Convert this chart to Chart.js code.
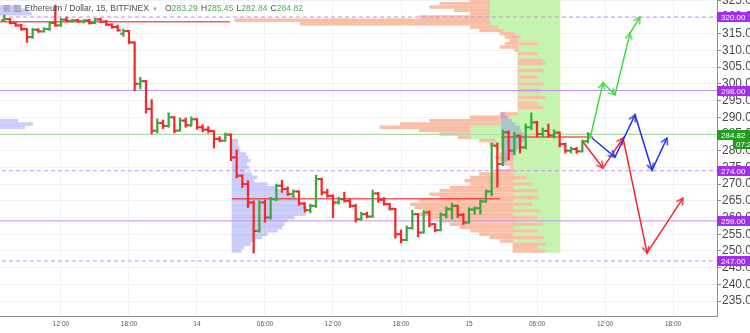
<!DOCTYPE html>
<html>
<head>
<meta charset="utf-8">
<script src="https://cdn.jsdelivr.net/npm/chart.js@4.4.0/dist/chart.umd.min.js"></script>
<style>
html, body { margin: 0; padding: 0; background: #fff; overflow: hidden; }
#wrap { position: relative; width: 750px; height: 333px; }
#title { position: absolute; left: 3px; top: 3px; font: 8.6px "Liberation Sans", Arial, sans-serif; color: #4a4a4a; white-space: nowrap; }
#title .ic { color: #888; font-size: 8.5px; }
#title .dd { color: #aaa; font-size: 6px; margin: 0 7px 0 3px; }
#title .g { color: #4caf50; margin-right: 3px; }
</style>
</head>
<body>
<div id="wrap">
  <canvas id="chart" width="750" height="333"></canvas>
  <div id="title"><span class="ic">⊞</span> <span class="ic">▥</span> Ethereum / Dollar, 15, BITFINEX<span class="dd">▼</span>O<span class="g">283.29</span>H<span class="g">285.45</span>L<span class="g">282.84</span>C<span class="g">284.82</span></div>
</div>
<script>
// bar times in hours from 13th 00:00 (30 min bars)
const barTimes = [7.0, 7.5, 8.0, 8.5, 9.0, 9.5, 10.0, 10.5, 11.0, 11.5, 12.0, 12.5, 13.0, 13.5, 14.0, 14.5, 15.0, 15.5, 16.0, 16.5,
  17.0, 17.5, 18.0, 18.5, 19.0, 19.5, 20.0, 20.5, 21.0, 21.5, 22.0, 22.5, 23.0, 23.5, 24.0, 24.5, 25.0, 25.5, 26.0, 26.5,
  27.0, 27.5, 28.0, 28.5, 29.0, 29.5, 30.0, 30.5, 31.0, 31.5, 32.0, 32.5, 33.0, 33.5, 34.0, 34.5, 35.0, 35.5, 36.0, 36.5,
  37.0, 37.5, 38.0, 38.5, 39.0, 39.5, 40.0, 40.5, 41.0, 41.5, 42.0, 42.5, 43.0, 43.5, 44.0, 44.5, 45.0, 45.5, 46.0, 46.5,
  47.0, 47.5, 48.0, 48.5, 49.0, 49.5, 50.0, 50.5, 51.0, 51.5, 52.0, 52.5, 53.0, 53.5, 54.0, 54.5, 55.0, 55.5, 56.0, 56.5,
  57.0, 57.5, 58.0, 58.5];
const barOpen = [319.1, 319.4, 318.2, 317.5, 316.4, 314.0, 316.2, 315.7, 316.4, 318.2, 317.5, 319.2, 318.8, 319.0, 318.7, 319.0, 318.2, 319.3, 318.6, 317.7,
  317.0, 315.0, 315.8, 312.4, 300.0, 300.8, 292.5, 286.0, 288.3, 287.4, 290.0, 286.0, 289.0, 287.6, 289.4, 287.0, 286.3, 285.9, 283.5, 283.0,
  284.8, 278.0, 272.5, 270.0, 264.5, 256.0, 264.5, 260.0, 265.5, 269.5, 268.5, 267.0, 267.8, 264.2, 262.2, 263.5, 271.5, 267.5, 266.5, 264.5,
  265.5, 265.0, 263.5, 259.5, 261.0, 260.3, 267.2, 265.3, 264.0, 262.6, 255.0, 253.3, 256.8, 261.0, 255.5, 261.5, 258.0, 256.2, 260.8, 262.5,
  263.5, 260.8, 258.5, 262.4, 262.8, 264.8, 267.8, 281.5, 276.0, 285.5, 280.0, 284.5, 281.0, 287.0, 288.5, 285.0, 285.9, 284.6, 285.4, 282.0,
  280.0, 280.5, 279.8, 282.8];
const barHigh = [320.6, 319.5, 318.5, 317.8, 316.5, 316.6, 316.5, 316.8, 318.6, 323.6, 319.6, 320.0, 319.3, 319.4, 319.2, 319.3, 319.6, 319.6, 319.0, 318.0,
  317.6, 316.4, 316.0, 312.6, 302.0, 301.0, 295.3, 289.5, 289.2, 291.3, 290.2, 289.8, 289.8, 290.1, 289.6, 287.8, 287.2, 286.0, 284.2, 285.3,
  285.0, 280.2, 272.8, 271.0, 265.0, 265.0, 265.2, 266.1, 270.0, 271.2, 269.2, 268.3, 268.0, 264.5, 264.0, 272.7, 271.8, 268.5, 266.8, 266.1,
  267.6, 265.5, 264.0, 261.6, 261.6, 268.2, 267.5, 266.0, 264.3, 262.8, 256.3, 257.5, 262.2, 261.2, 262.2, 262.0, 258.2, 261.4, 263.2, 264.3,
  263.7, 261.2, 262.9, 263.2, 265.2, 268.2, 282.3, 282.3, 286.2, 285.9, 285.5, 284.7, 288.0, 291.3, 288.8, 286.8, 288.0, 286.2, 285.6, 282.3,
  281.1, 281.0, 283.2, 285.45];
const barLow = [318.6, 317.9, 317.2, 316.0, 312.4, 313.6, 315.4, 315.5, 316.0, 317.2, 317.2, 318.5, 318.4, 318.5, 318.2, 317.9, 318.0, 318.4, 317.4, 316.6,
  315.8, 314.2, 312.0, 297.9, 298.5, 291.2, 285.0, 285.3, 286.6, 287.0, 285.3, 285.8, 287.0, 287.3, 286.4, 285.6, 285.3, 280.8, 282.6, 282.8,
  277.0, 271.9, 269.0, 263.0, 249.4, 255.6, 258.6, 259.5, 265.0, 267.5, 266.6, 266.1, 263.7, 261.6, 261.4, 263.0, 266.7, 266.0, 260.0, 264.0,
  264.6, 263.0, 258.6, 259.2, 259.9, 260.0, 264.5, 263.7, 262.2, 253.8, 252.4, 253.0, 256.5, 254.2, 255.3, 257.2, 255.7, 256.0, 259.8, 259.5,
  260.0, 257.9, 258.3, 261.0, 261.0, 264.6, 266.5, 269.1, 275.5, 277.2, 278.7, 279.3, 280.5, 286.3, 284.1, 284.2, 284.0, 283.8, 281.1, 279.3,
  279.3, 279.2, 279.6, 282.3];
const barClose = [319.4, 318.2, 317.5, 316.4, 314.0, 316.2, 315.7, 316.4, 318.2, 317.5, 319.2, 318.8, 319.0, 318.7, 319.0, 318.2, 319.3, 318.6, 317.7, 317.0,
  316.0, 315.8, 312.4, 300.0, 300.8, 292.5, 286.0, 288.3, 287.4, 290.0, 286.0, 289.0, 287.6, 289.4, 287.0, 286.3, 285.9, 283.5, 283.0, 284.8,
  278.0, 272.5, 270.0, 264.5, 256.0, 264.5, 260.0, 265.5, 269.5, 268.5, 267.0, 267.8, 264.2, 262.2, 263.5, 271.5, 267.5, 266.5, 264.5, 265.5,
  265.0, 263.5, 259.5, 261.0, 260.3, 267.2, 265.3, 264.0, 262.6, 255.0, 253.3, 256.8, 261.0, 255.5, 261.5, 258.0, 256.2, 260.8, 262.5, 263.5,
  260.8, 258.5, 262.4, 262.8, 264.8, 267.8, 281.5, 276.0, 285.5, 280.0, 284.5, 281.0, 287.0, 288.5, 285.0, 285.9, 284.6, 285.4, 282.0, 280.0,
  280.5, 279.8, 282.8, 284.82];

// x axis ticks
const xTickHours = [12, 18, 24, 30, 36, 42, 48, 54, 60, 66];
const xTickLabels = ['12:00', '18:00', '14', '06:00', '12:00', '18:00', '15', '06:00', '12:00', '18:00'];

// horizontal levels
const solidLevels = [298, 259];
const dashedLevels = [320, 274, 247];
const lastPrice = 284.82;
const countdown = '07:22';

// session volume profiles (blue) : start hour, POC price, POC end hour
const sessionStart = [3.09, 27.09, 50.85];
const sessionPoc = [318.6, 265.6, 284.1];
const sessionPocEnd = [26.9, 50.74, 58.94];
const sessAPrices = [323, 322, 321, 289, 288, 287];
const sessAVolume = [5.3, 6.0, 6.3, 5.1, 6.4, 5.7];
const sessBPrices = [283, 282, 281, 280, 279, 278, 277, 276, 275, 274, 273, 272, 271, 270, 269, 268, 267, 266, 265, 264, 263, 262, 261, 260, 259, 258, 257, 256, 255, 254, 253, 252, 251, 250];
const sessBVolume = [0.5, 0.5, 0.6, 0.7, 1.2, 1.4, 1.6, 1.3, 1.5, 1.15, 1.75, 2.2, 1.95, 3.1, 3.8, 4.4, 5.1, 5.65, 6.0, 6.45, 6.6, 6.2, 6.5, 5.5, 4.85, 4.6, 4.4, 4.0, 3.1, 2.65, 1.95, 1.6, 1.05, 0.8];
const sessCPrices = [291, 290, 289, 288, 287, 286, 285, 284, 283, 282, 281, 280, 279, 278, 277, 276];
const sessCVolume = [0.27, 0.5, 0.9, 1.2, 1.6, 1.75, 1.95, 2.1, 1.95, 1.75, 1.6, 1.3, 1.05, 0.7, 0.45, 0.27];

// visible range profile, right aligned: up volume (green) on the right, down volume (salmon) stacked to its left
const vpRight = 56.03;
const vpPrices = [325, 324, 323, 322, 321, 320, 319, 318, 317, 316, 315, 314, 313, 312, 311, 310, 309, 308, 307, 306,
  305, 304, 303, 302, 301, 300, 299, 298, 297, 296, 295, 294, 293, 292, 291, 290, 289, 288, 287, 286,
  285, 284, 283, 282, 281, 280, 279, 278, 277, 276, 275, 274, 273, 272, 271, 270, 269, 268, 267, 266,
  265, 264, 263, 262, 261, 260, 259, 258, 257, 256, 255, 254, 253, 252, 251, 250];
const vpUp = [6.2, 6.2, 6.2, 6.2, 6.2, 6.2, 6.2, 6.2, 5.5, 5.0, 4.0, 3.5, 3.7, 2.0, 3.7, 3.7, 2.0, 3.7, 1.5, 1.3,
  3.7, 1.5, 3.7, 2.0, 3.7, 1.5, 3.7, 1.8, 3.7, 1.3, 3.7, 2.0, 1.5, 3.7, 3.7, 4.5, 5.3, 5.3, 7.9, 7.9,
  7.9, 7.9, 5.7, 5.7, 5.7, 4.15, 4.15, 4.15, 4.15, 4.15, 4.15, 4.15, 4.15, 3.0, 4.15, 2.5, 4.15, 2.0, 4.15, 2.0,
  4.15, 2.5, 4.15, 1.8, 4.15, 2.0, 4.15, 1.5, 4.15, 2.0, 4.15, 1.5, 4.15, 1.3, 2.0, 1.3];
const vpDown = [1.7, 4.4, 5.3, 3.1, 1.7, 6.2, 22.5, 16.7, 2.4, 2.1, 1.3, 1.35, 0.7, 2.85, 1.6, 0.3, 1.7, 0, 2.2, 2.4,
  0, 2.2, 0, 1.7, 0, 2.2, 0, 1.9, 0, 2.4, 0, 1.7, 2.2, 0, 1.6, 3.4, 6.2, 8.8, 8.0, 4.5,
  2.7, 1.1, 1.4, 0.5, 0, 0.7, 1.15, 1.55, 1.15, 0.7, 0.25, 1.55, 2.95, 4.9, 4.25, 5.4, 5.55, 8.6, 7.35, 8.6,
  8.25, 10.7, 8.65, 10.1, 8.25, 9.5, 6.45, 8.2, 4.65, 5.9, 2.95, 4.7, 1.15, 2.85, 2.15, 2.85];

// projection paths
const greenPathT = [58.68, 59.82, 60.88, 62.21, 63.09];
const greenPathP = [283.7, 300.3, 296.7, 315.2, 320.0];
const bluePathT = [58.85, 60.88, 62.65, 64.15, 65.47];
const bluePathP = [283.8, 278.1, 290.7, 274.2, 283.8];
const redPathT = [58.06, 59.82, 61.59, 63.71, 66.88];
const redPathP = [282.6, 274.8, 283.8, 249.4, 265.8];

const GREEN = '#3da83d';
const RED = '#f42a2a';
const PURPLE_LINE = '#c390f2';
const PURPLE_TAG = '#a12ff0';
const FONT = '"Liberation Sans", Arial, sans-serif';
const TICK_HALF = 0.25;

function barColor(i) {
    return barClose[i] >= barOpen[i] ? GREEN : RED;
}

function chevron(color) {
    const c = document.createElement('canvas');
    c.width = 16; c.height = 16;
    const g = c.getContext('2d');
    g.strokeStyle = color;
    g.lineWidth = 1.5;
    g.beginPath();
    g.moveTo(4.5, 14.5);
    g.lineTo(8, 8);
    g.lineTo(11.5, 14.5);
    g.stroke();
    return c;
}

function arrowAngle(ctx) {
    const d = ctx.dataset.data;
    const i = ctx.dataIndex;
    if (i === 0) return 0;
    const sx = ctx.chart.scales.x, sy = ctx.chart.scales.y;
    const dx = sx.getPixelForValue(d[i].x) - sx.getPixelForValue(d[i - 1].x);
    const dy = sy.getPixelForValue(d[i].y) - sy.getPixelForValue(d[i - 1].y);
    return Math.atan2(dx, -dy) * 180 / Math.PI;
}

function pathDataset(ts, ps, color) {
    const img = chevron(color);
    return {
        type: 'line',
        data: ts.map((t, i) => ({x: t, y: ps[i]})),
        borderColor: color,
        borderWidth: 1.5,
        pointStyle: (ctx) => ctx.dataIndex === 0 ? false : img,
        pointRotation: arrowAngle,
        pointRadius: 5,
        order: 1
    };
}

function levelDataset(level, color, dash) {
    return {
        type: 'line',
        data: [{x: 0, y: level}, {x: 80, y: level}],
        borderColor: color,
        borderWidth: 1,
        borderDash: dash,
        pointRadius: 0,
        order: 6
    };
}

function hbars(points, color, thickness, order) {
    return {
        type: 'bar',
        indexAxis: 'y',
        data: points,
        backgroundColor: color,
        barThickness: thickness,
        grouped: false,
        order: order
    };
}

function profileDataset(prices, volumes, start, color, order) {
    return hbars(prices.map((p, i) => ({y: p, x: [start, start + volumes[i]]})), color, 2.8, order);
}

const datasets = [];
datasets.push(hbars(vpPrices.map((p, i) => ({y: p, x: [vpRight - vpUp[i], vpRight]})), '#c4f4ae', 3, 11));
datasets.push(hbars(vpPrices.map((p, i) => ({y: p, x: [vpRight - vpUp[i] - vpDown[i], vpRight - vpUp[i]]})), '#f9bfa6', 2.8, 10));
datasets.push(profileDataset(sessAPrices, sessAVolume, sessionStart[0], 'rgba(130,130,240,0.4)', 9));
datasets.push(profileDataset(sessBPrices, sessBVolume, sessionStart[1], 'rgba(130,130,240,0.4)', 9));
datasets.push(profileDataset(sessCPrices, sessCVolume, sessionStart[2], 'rgba(130,130,240,0.4)', 9));
solidLevels.forEach(l => datasets.push(levelDataset(l, PURPLE_LINE, [])));
dashedLevels.forEach(l => datasets.push(levelDataset(l, PURPLE_LINE, [4, 3])));
datasets.push(levelDataset(lastPrice, '#a8d8a4', []));
sessionPoc.forEach((p, i) => datasets.push({
    type: 'line',
    data: [{x: sessionStart[i], y: p}, {x: sessionPocEnd[i], y: p}],
    borderColor: 'rgba(240,50,50,0.8)',
    borderWidth: 1.5,
    pointRadius: 0,
    order: 5
}));
// OHLC bars: high-low stem plus open (left) and close (right) ticks
datasets.push({
    type: 'bar',
    data: barTimes.map((t, i) => ({x: t, y: [barLow[i], barHigh[i]]})),
    backgroundColor: barTimes.map((t, i) => barColor(i)),
    barThickness: 1.6,
    grouped: false,
    order: 3
});
datasets.push(hbars(barTimes.map((t, i) => ({y: barOpen[i], x: [t - TICK_HALF, t]})), barTimes.map((t, i) => barColor(i)), 1.4, 3));
datasets.push(hbars(barTimes.map((t, i) => ({y: barClose[i], x: [t, t + TICK_HALF]})), barTimes.map((t, i) => barColor(i)), 1.4, 3));
datasets.push(pathDataset(greenPathT, greenPathP, '#3fdc3f'));
datasets.push(pathDataset(bluePathT, bluePathP, '#2233ee'));
datasets.push(pathDataset(redPathT, redPathP, '#f02828'));

const axisTags = {
    id: 'axisTags',
    afterDraw(chart) {
        const {ctx, chartArea, scales: {y}} = chart;
        const w = chart.width - chartArea.right;
        ctx.save();
        ctx.font = '8px ' + FONT;
        ctx.textBaseline = 'middle';
        dashedLevels.concat(solidLevels).forEach(l => {
            const py = Math.round(y.getPixelForValue(l));
            ctx.fillStyle = PURPLE_TAG;
            ctx.fillRect(chartArea.right, py - 5, w, 10);
            ctx.fillStyle = '#fff';
            ctx.fillText(l.toFixed(2), chartArea.right + 4, py + 0.5);
        });
        const py = Math.round(y.getPixelForValue(lastPrice));
        ctx.fillStyle = '#1f9e1f';
        ctx.fillRect(chartArea.right, py - 5, w, 10);
        ctx.fillRect(chartArea.right + 16, py + 4, w - 16, 10);
        ctx.fillStyle = '#fff';
        ctx.fillText(lastPrice.toFixed(2), chartArea.right + 4, py + 0.5);
        ctx.fillText(countdown, chartArea.right + 19, py + 9.5);
        ctx.restore();
    }
};

new Chart(document.getElementById('chart'), {
    type: 'bar',
    data: {datasets: datasets},
    plugins: [axisTags],
    options: {
        responsive: false,
        animation: false,
        devicePixelRatio: 1,
        layout: {padding: 0, autoPadding: false},
        plugins: {legend: {display: false}, tooltip: {enabled: false}},
        scales: {
            x: {
                type: 'linear',
                min: 6.62,
                max: 69.88,
                offset: false,
                grid: {color: '#eef1f6', offset: false, drawTicks: false},
                border: {color: '#8e8e8e'},
                ticks: {
                    font: {size: 6.5, family: FONT},
                    color: '#555',
                    padding: 4,
                    maxRotation: 0,
                    autoSkip: false,
                    callback: (v) => xTickLabels[xTickHours.indexOf(v)]
                },
                afterBuildTicks: (s) => { s.ticks = xTickHours.map(v => ({value: v})); },
                afterFit: (s) => { s.height = 17; s.paddingLeft = 0; s.paddingRight = 0; }
            },
            y: {
                type: 'linear',
                position: 'right',
                min: 230.53,
                max: 325.09,
                offset: false,
                grid: {color: '#eef1f6', tickColor: '#8e8e8e', tickLength: 4, offset: false},
                border: {color: '#8e8e8e'},
                ticks: {
                    stepSize: 5,
                    includeBounds: false,
                    font: {size: 12, family: FONT},
                    color: '#4a4a4a',
                    padding: 1,
                    autoSkip: false,
                    callback: (v) => v.toFixed(2)
                },
                afterFit: (s) => { s.width = 33; s.paddingTop = 0; s.paddingBottom = 0; }
            }
        }
    }
});
</script>
</body>
</html>
